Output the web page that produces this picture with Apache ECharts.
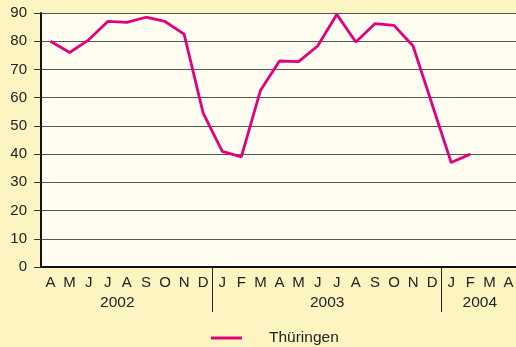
<!DOCTYPE html>
<html>
<head>
<meta charset="utf-8">
<script src="https://cdn.jsdelivr.net/npm/echarts@6/dist/echarts.min.js"></script>
<style>
  html, body { margin: 0; padding: 0; background: #fdf5c1; }
  #chart { width: 516px; height: 347px; }
</style>
</head>
<body>
<div id="chart"></div>
<script>
// Month labels from April 2002 to April 2004
const months = ['A','M','J','J','A','S','O','N','D',
                'J','F','M','A','M','J','J','A','S','O','N','D',
                'J','F','M','A'];
// Year groups and how many months each covers on the axis
const years = ['2002', '2003', '2004'];
const monthsPerYear = [9, 12, 4];
// Values for Thüringen
const seriesName = 'Thüringen';
const values = [80, 76, 80.5, 87, 86.7, 88.5, 87, 82.5, 54.5,
                41, 39, 62.5, 73, 72.8, 78.3, 89.5, 79.7, 86.2, 85.6, 78.3, 57.6,
                37, 40, null, null];
const yTicks = { min: 0, max: 90, interval: 10 };

// Boundary axis: one slot per month boundary; year names placed mid-span,
// separator ticks drawn at year boundaries.
const boundaryCats = new Array(months.length + 1).fill('');
const separators = new Set();
let start = 0;
years.forEach((y, i) => {
  boundaryCats[start + Math.floor(monthsPerYear[i] / 2)] = y;
  start += monthsPerYear[i];
  if (start < months.length) separators.add(start);
});

const font = 'Liberation Sans, Arial, Helvetica, sans-serif';
const chart = echarts.init(document.getElementById('chart'));
chart.setOption({
  backgroundColor: '#fdf5c1',
  animation: false,
  grid: {
    left: 41, width: 477, top: 13, bottom: 80,
    containLabel: false,
    outerBoundsMode: 'none',
    show: true, backgroundColor: '#fffdf0', borderWidth: 0
  },
  legend: {
    data: [seriesName],
    left: 206, top: 325,
    itemWidth: 31, itemHeight: 3,
    icon: 'rect',
    textStyle: { fontFamily: font, fontSize: 15.5, color: '#222', padding: [0, 0, 0, 22] }
  },
  xAxis: [
    {
      type: 'category',
      data: months,
      boundaryGap: true,
      axisLine: { lineStyle: { color: '#111', width: 2 } },
      axisTick: { show: false },
      axisLabel: { interval: 0, margin: 8.5, fontFamily: font, fontSize: 15, color: '#222' }
    },
    {
      type: 'category',
      data: boundaryCats,
      boundaryGap: false,
      position: 'bottom',
      axisLine: { show: false },
      axisTick: {
        show: true, length: 45,
        interval: (idx) => separators.has(idx),
        lineStyle: { color: '#222', width: 1 }
      },
      axisLabel: { interval: 0, margin: 28, fontFamily: font, fontSize: 15.5, color: '#222' }
    }
  ],
  yAxis: {
    type: 'value',
    min: yTicks.min, max: yTicks.max, interval: yTicks.interval,
    axisLine: { show: true, lineStyle: { color: '#111', width: 2 } },
    axisTick: { show: true, length: 7, lineStyle: { color: '#333', width: 1 } },
    axisLabel: { margin: 14, fontFamily: font, fontSize: 15, color: '#222' },
    splitLine: { lineStyle: { color: '#555', width: 1 } }
  },
  series: [{
    name: seriesName,
    type: 'line',
    xAxisIndex: 0,
    data: values,
    showSymbol: false,
    symbol: 'none',
    connectNulls: false,
    lineStyle: { color: '#e4007c', width: 2.8 },
    itemStyle: { color: '#e4007c' }
  }]
});
</script>
</body>
</html>
